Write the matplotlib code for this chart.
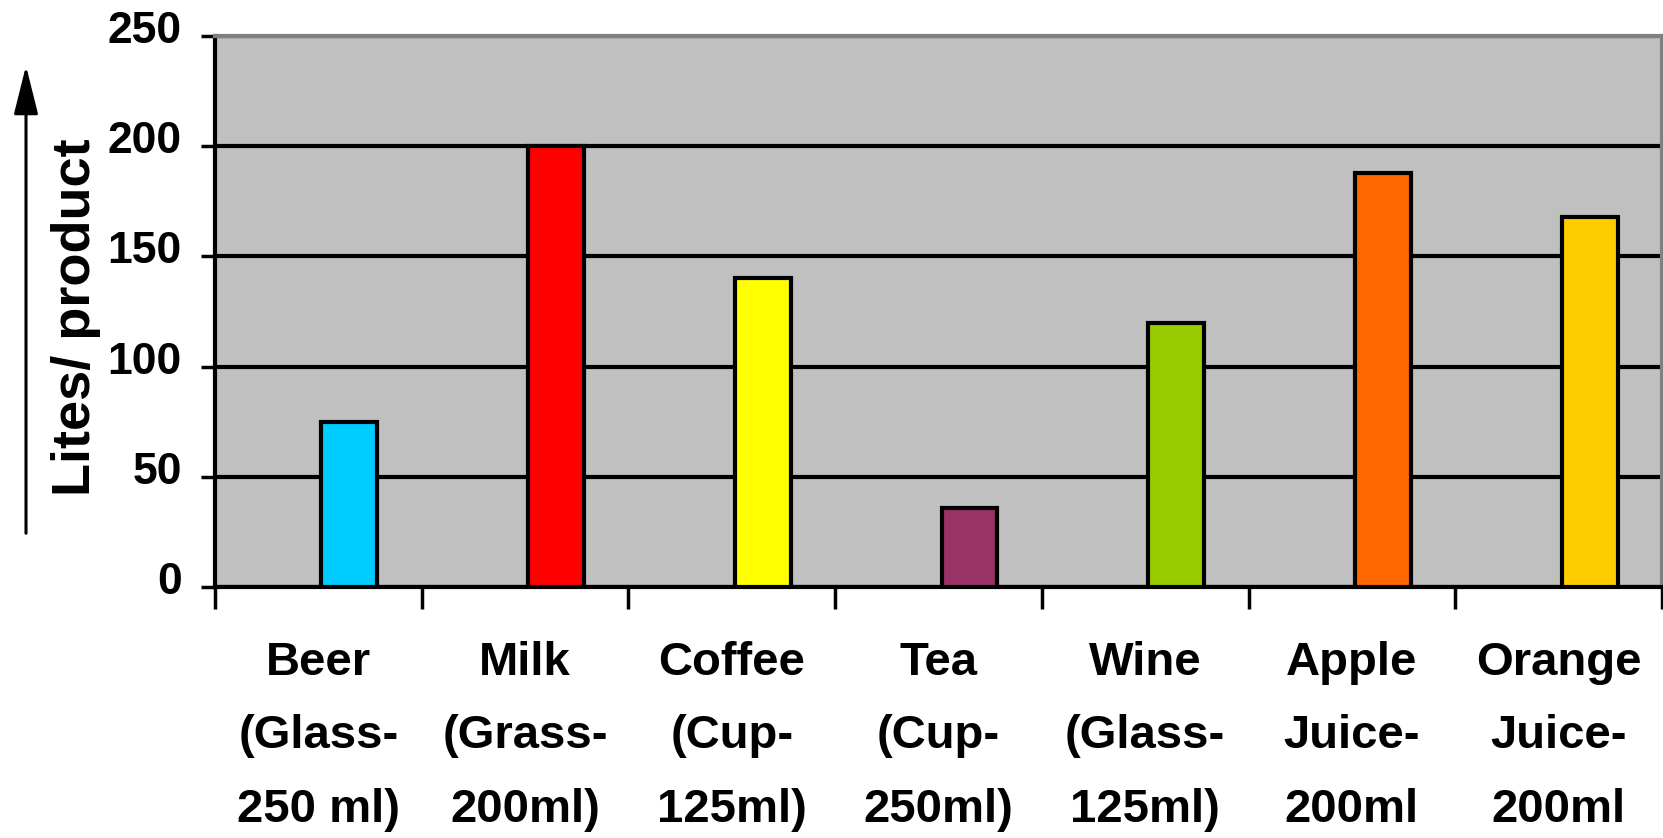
import matplotlib
matplotlib.use("Agg")
import matplotlib.pyplot as plt
from matplotlib.patches import FancyArrowPatch
from matplotlib.transforms import ScaledTranslation

# Water needed per serving
drinks = ["Beer\n(Glass-\n250 ml)", "Milk\n(Grass-\n200ml)", "Coffee\n(Cup-\n125ml)",
          "Tea\n(Cup-\n250ml)", "Wine\n(Glass-\n125ml)", "Apple\nJuice-\n200ml",
          "Orange\nJuice-\n200ml"]
litres = [75, 200, 140, 36, 120, 188, 168]
colors = ["#00CCFF", "#FF0000", "#FFFF00", "#993366", "#99CC00", "#FF6600", "#FFCC00"]
y_ticks = [0, 50, 100, 150, 200, 250]

plt.rcParams['font.family'] = ['Liberation Sans', 'DejaVu Sans']

fig = plt.figure(figsize=(16.63, 8.38), dpi=100)
ax = fig.add_axes([215 / 1663, 1 - 587 / 838, 1447 / 1663, 551 / 838])
ax.set_facecolor("#C0C0C0")

x = range(len(litres))
ax.bar([i + 0.15 for i in x], litres, width=0.27, color=colors,
       edgecolor="black", linewidth=3, zorder=3)

ax.set_xlim(-0.5, len(litres) - 0.5)
ax.set_ylim(0, 250)
ax.set_yticks(y_ticks)
ax.set_yticklabels([str(v) for v in y_ticks], fontsize=32, fontweight="bold")
ax.yaxis.grid(True, color="black", linewidth=3, zorder=1)
ax.set_axisbelow(True)

# category boundaries get the ticks, centres get the labels
ax.set_xticks([i - 0.5 for i in range(len(litres) + 1)])
ax.set_xticklabels([])
ax.set_xticks(list(x), minor=True)
ax.set_xticklabels(drinks, minor=True, fontsize=34, fontweight="bold",
                   linespacing=1.86)
ax.tick_params(axis="x", which="major", direction="out", length=16, width=2.5)
ax.tick_params(axis="x", which="minor", length=0, pad=39)
ax.tick_params(axis="y", direction="out", length=10, width=2.5, pad=14)

for lab in ax.get_yticklabels():
    lab.set_transform(lab.get_transform() + ScaledTranslation(0, 0.09, fig.dpi_scale_trans))

for side in ["left", "bottom"]:
    ax.spines[side].set_color("black")
    ax.spines[side].set_linewidth(3)
for side in ["top", "right"]:
    ax.spines[side].set_color("#808080")
    ax.spines[side].set_linewidth(3)

fig.text(76 / 1663, 1 - 317 / 838, "Lites/ product", rotation=90,
         ha="center", va="center", fontsize=39, fontweight="bold")

arrow = FancyArrowPatch((26 / 1663, 1 - 536 / 838), (26 / 1663, 1 - 63 / 838),
                        transform=fig.transFigure,
                        arrowstyle="-|>,head_length=30,head_width=7.5",
                        color="black", linewidth=2.2, mutation_scale=1)
fig.add_artist(arrow)

fig.savefig("out.png", dpi=100)
